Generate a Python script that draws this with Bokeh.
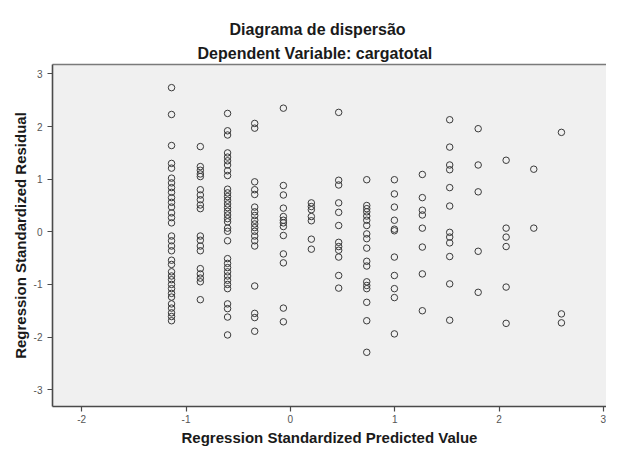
from bokeh.plotting import figure
from bokeh.models import LinearAxis, FixedTicker, Title, Range1d
from bokeh.embed import file_html
from bokeh.resources import INLINE

# Predicted value (x) of each column of points
col_x = [-1.139, -0.863, -0.602, -0.342, -0.067, 0.201, 0.463, 0.732,
         0.997, 1.265, 1.527, 1.800, 2.068, 2.333, 2.598]

# Standardized residuals (y) in each column
c01 = [2.74, 2.23, 1.64, 1.30, 1.21, 1.02, 0.93, 0.84, 0.75, 0.65, 0.56, 0.47,
       0.36, 0.27, 0.17, -0.08, -0.17, -0.27, -0.36, -0.54, -0.62, -0.76, -0.84,
       -0.91, -1.00, -1.08, -1.17, -1.24, -1.37, -1.45, -1.54, -1.61, -1.69]
c02 = [1.62, 1.24, 1.17, 1.10, 1.05, 0.80, 0.70, 0.61, 0.51, 0.44, -0.08, -0.16,
       -0.27, -0.36, -0.70, -0.80, -0.88, -0.95, -1.29]
c03 = [2.25, 1.92, 1.84, 1.50, 1.42, 1.35, 1.27, 1.16, 1.07, 0.81, 0.74, 0.67,
       0.60, 0.53, 0.46, 0.39, 0.32, 0.25, 0.19, 0.07, 0.01, -0.17, -0.51, -0.60,
       -0.68, -0.76, -0.84, -0.92, -1.00, -1.08, -1.37, -1.46, -1.62, -1.96]
c04 = [2.06, 1.97, 0.95, 0.80, 0.71, 0.47, 0.38, 0.31, 0.22, 0.15, 0.08, 0.01,
       -0.08, -0.17, -0.27, -1.03, -1.55, -1.63, -1.89]
c05 = [2.35, 0.88, 0.70, 0.45, 0.29, 0.22, 0.17, 0.10, -0.07, -0.42, -0.59,
       -1.45, -1.71]
c06 = [0.55, 0.48, 0.42, 0.29, 0.21, -0.14, -0.33]
c07 = [2.27, 0.98, 0.89, 0.55, 0.37, 0.12, -0.20, -0.28, -0.35, -0.48, -0.83, -1.07]
c08 = [0.99, 0.50, 0.44, 0.38, 0.30, 0.22, 0.12, -0.04, -0.13, -0.31, -0.56,
       -0.65, -0.95, -1.02, -1.08, -1.34, -1.69, -2.29]
c09 = [0.99, 0.72, 0.47, 0.22, 0.05, 0.02, -0.48, -0.83, -1.08, -1.25, -1.94]
c10 = [1.09, 0.65, 0.41, 0.32, 0.07, -0.29, -0.80, -1.50]
c11 = [2.13, 1.61, 1.27, 1.18, 0.84, 0.49, -0.01, -0.10, -0.21, -0.47, -0.99, -1.68]
c12 = [1.96, 1.27, 0.76, -0.37, -1.15]
c13 = [1.36, 0.07, -0.10, -0.28, -1.05, -1.74]
c14 = [1.19, 0.07]
c15 = [1.89, -1.56, -1.73]
columns = [c01, c02, c03, c04, c05, c06, c07, c08, c09, c10, c11, c12, c13, c14, c15]

x_ticks = [-2, -1, 0, 1, 2, 3]
y_ticks = [-3, -2, -1, 0, 1, 2, 3]

title_main = "Diagrama de dispersão"
title_sub = "Dependent Variable: cargatotal"
x_label = "Regression Standardized Predicted Value"
y_label = "Regression Standardized Residual"

xs, ys = [], []
for cx, col in zip(col_x, columns):
    for v in col:
        xs.append(cx)
        ys.append(v)

FONT = "Liberation Sans"

p = figure(width=606, height=448, output_backend="svg", toolbar_location=None,
           title=None, x_axis_type=None, y_axis_type=None,
           x_range=Range1d(-2.28, 3.03), y_range=Range1d(-3.32, 3.18),
           min_border_left=52, min_border_right=0, min_border_bottom=41,
           min_border_top=64)
p.background_fill_color = "#f0f0f0"
p.border_fill_color = "white"
p.outline_line_color = None
p.xgrid.visible = False
p.ygrid.visible = False


def style_axis(ax, ticks):
    ax.ticker = FixedTicker(ticks=ticks)
    ax.major_label_overrides = {t: str(t) for t in ticks}
    ax.minor_tick_line_color = None
    ax.major_tick_in = 0
    ax.major_tick_out = 5
    ax.axis_line_color = "#4a4a4a"
    ax.axis_line_width = 1.6
    ax.major_tick_line_color = "#4a4a4a"
    ax.major_tick_line_width = 1.2
    ax.major_label_text_font = FONT
    ax.major_label_text_font_size = "10px"
    ax.major_label_text_color = "#555555"
    ax.axis_label_text_font = FONT
    ax.axis_label_text_font_size = "15px"
    ax.axis_label_text_font_style = "bold"
    ax.axis_label_text_color = "#1a1a1a"


xa = LinearAxis(axis_label=x_label)
style_axis(xa, x_ticks)
xa.major_label_standoff = 3
xa.axis_label_standoff = 3
p.add_layout(xa, "below")

ya = LinearAxis(axis_label=y_label)
style_axis(ya, y_ticks)
ya.major_label_standoff = 5
ya.axis_label_standoff = 2
p.add_layout(ya, "left")

# top border line of the frame
ta = LinearAxis(ticker=FixedTicker(ticks=[]))
ta.axis_line_color = "#7a7a7a"
ta.axis_line_width = 1.6
ta.major_tick_out = 0
ta.major_tick_in = 0
ta.minor_tick_out = 0
ta.minor_tick_in = 0
ta.major_label_text_font_size = "0px"
ta.major_label_standoff = 0
p.add_layout(ta, "above")

p.add_layout(Title(text=title_sub, align="left", offset=145, text_font=FONT,
                   text_font_size="16px", text_font_style="bold",
                   text_color="#1a1a1a", standoff=6), "above")
p.add_layout(Title(text=title_main, align="left", offset=177, text_font=FONT,
                   text_font_size="16px", text_font_style="bold",
                   text_color="#1a1a1a", standoff=3), "above")

p.scatter(xs, ys, marker="circle", size=6.5, fill_color=None,
          line_color="#3a3a3a", line_width=1.0)

open("out.html", "w").write(file_html(p, INLINE))
